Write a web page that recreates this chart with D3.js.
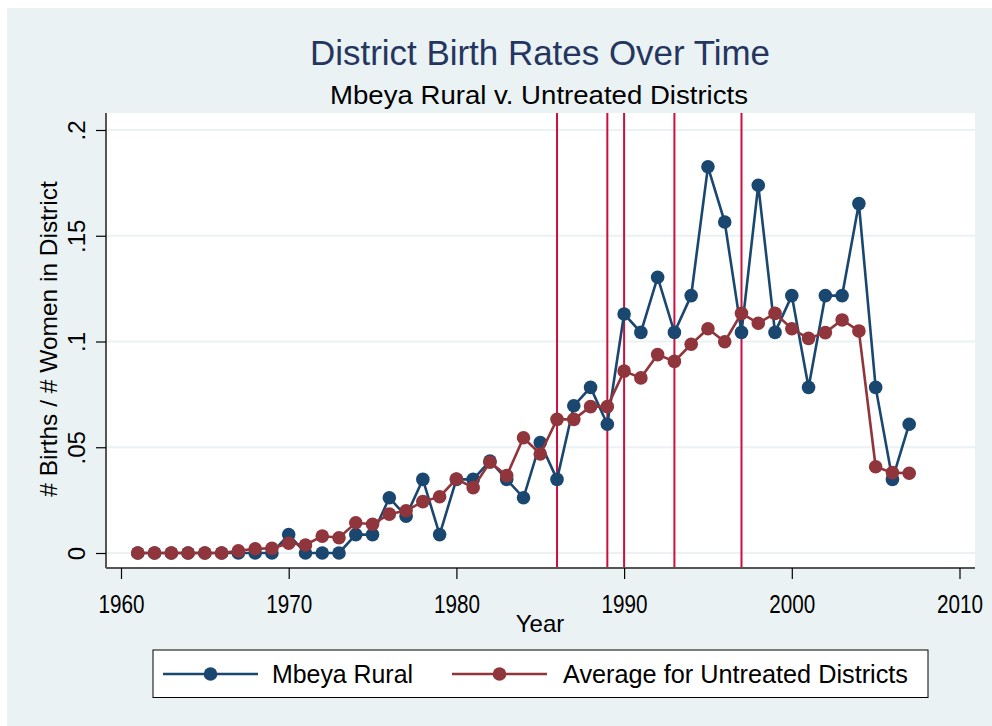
<!DOCTYPE html>
<html>
<head>
<meta charset="utf-8">
<script src="https://cdn.jsdelivr.net/npm/d3@7"></script>
<style>
  html, body { margin: 0; padding: 0; background: #ffffff; }
  svg { display: block; }
  text { font-family: "Liberation Sans", Arial, Helvetica, sans-serif; }
</style>
</head>
<body>
<svg id="chart" width="992" height="726"></svg>
<script>
const years = d3.range(1961, 2008);
const mbeyaRural = [
  0, 0, 0, 0, 0, 0, 0, 0, 0,            // 1961-1969
  0.0087, 0, 0, 0, 0.0087, 0.0087,      // 1970-1975
  0.0261, 0.0174, 0.0348, 0.0087,       // 1976-1979
  0.0348, 0.0348, 0.0435, 0.0348, 0.0261, 0.0522, 0.0348, 0.0696, 0.0783, 0.0609, // 1980-1989
  0.1130, 0.1043, 0.1304, 0.1043, 0.1217, 0.1826, 0.1565, 0.1043, 0.1739, 0.1043, // 1990-1999
  0.1217, 0.0783, 0.1217, 0.1217, 0.1652, 0.0783, 0.0348, 0.0609                 // 2000-2007
];
const untreatedAvg = [
  0, 0, 0, 0, 0, 0, 0.001, 0.002, 0.0022, // 1961-1969
  0.0046, 0.0038, 0.008, 0.0072, 0.0143, 0.0136, 0.0184, 0.020, 0.0243, 0.0266, // 1970-1979
  0.035, 0.0309, 0.0429, 0.0366, 0.0545, 0.0468, 0.0632, 0.0632, 0.0692, 0.0692, // 1980-1989
  0.086, 0.0828, 0.0938, 0.0906, 0.0987, 0.106, 0.0999, 0.1133, 0.1086, 0.1133,  // 1990-1999
  0.106, 0.1015, 0.1042, 0.1102, 0.105, 0.0408, 0.038, 0.0377                    // 2000-2007
];
const policyYears = [1986, 1989, 1990, 1993, 1997];
const xTicks = [1960, 1970, 1980, 1990, 2000, 2010];
const yTicks = [0, 0.05, 0.1, 0.15, 0.2];
const yTickLabels = ["0", ".05", ".1", ".15", ".2"];
const seriesNames = ["Mbeya Rural", "Average for Untreated Districts"];
const seriesColors = ["#1a476f", "#90353b"];

const svg = d3.select("#chart");
const plot = { left: 106, right: 975, top: 113, bottom: 568 };

const x = d3.scaleLinear().domain([1960, 2010]).range([121, 959.5]);
const y = d3.scaleLinear().domain([0, 0.2]).range([553, 130]);

// outer background
svg.append("rect").attr("x", 7).attr("y", 8).attr("width", 985).attr("height", 718).attr("fill", "#eaf2f3");
// plot region
svg.append("rect").attr("x", plot.left).attr("y", plot.top)
  .attr("width", plot.right - plot.left).attr("height", plot.bottom - plot.top).attr("fill", "#ffffff");

// gridlines
svg.append("g").selectAll("line").data(yTicks).join("line")
  .attr("x1", plot.left).attr("x2", plot.right)
  .attr("y1", d => y(d)).attr("y2", d => y(d))
  .attr("stroke", "#eaf2f3").attr("stroke-width", 2);

// policy lines
svg.append("g").selectAll("line").data(policyYears).join("line")
  .attr("x1", d => x(d)).attr("x2", d => x(d))
  .attr("y1", plot.top).attr("y2", plot.bottom)
  .attr("stroke", "#cc0f3c").attr("stroke-width", 2);

// titles
svg.append("text").attr("x", 540).attr("y", 65).attr("text-anchor", "middle")
  .attr("font-size", 35).attr("fill", "#243660").attr("textLength", 460).attr("lengthAdjust", "spacingAndGlyphs")
  .text("District Birth Rates Over Time");
svg.append("text").attr("x", 539).attr("y", 104).attr("text-anchor", "middle")
  .attr("font-size", 26).attr("fill", "#000").attr("textLength", 418).attr("lengthAdjust", "spacingAndGlyphs")
  .text("Mbeya Rural v. Untreated Districts");

// series
const allSeries = [mbeyaRural, untreatedAvg];
allSeries.forEach((vals, i) => {
  const data = years.map((yr, j) => ({ yr, v: vals[j] }));
  const g = svg.append("g");
  g.append("path").datum(data)
    .attr("fill", "none").attr("stroke", seriesColors[i]).attr("stroke-width", 2.6)
    .attr("d", d3.line().x(d => x(d.yr)).y(d => y(d.v)));
  g.selectAll("circle").data(data).join("circle")
    .attr("cx", d => x(d.yr)).attr("cy", d => y(d.v)).attr("r", 6.8)
    .attr("fill", seriesColors[i]);
});

// axes
const yAxis = svg.append("g").attr("transform", `translate(${plot.left},0)`)
  .call(d3.axisLeft(y).tickValues(yTicks).tickSize(10).tickFormat((d, i) => yTickLabels[i]));
yAxis.select(".domain").attr("d", `M0,${plot.top}V${plot.bottom}`).attr("stroke", "#555").attr("stroke-width", 2);
yAxis.selectAll(".tick line").attr("stroke", "#000").attr("stroke-width", 1.2);
yAxis.selectAll(".tick text")
  .attr("font-size", 24).attr("fill", "#000")
  .attr("x", null).attr("dy", null)
  .attr("text-anchor", "middle")
  .attr("transform", "translate(-21,0) rotate(-90)");

const xAxis = svg.append("g").attr("transform", `translate(0,${plot.bottom})`)
  .call(d3.axisBottom(x).tickValues(xTicks).tickSize(11).tickFormat(d3.format("d")));
xAxis.select(".domain").attr("d", `M${plot.left},0H${plot.right}`).attr("stroke", "#555").attr("stroke-width", 2);
xAxis.selectAll(".tick line").attr("stroke", "#000").attr("stroke-width", 1.2);
xAxis.selectAll(".tick text").attr("font-size", 25).attr("fill", "#000").attr("y", 45).attr("dy", null)
  .attr("textLength", 46).attr("lengthAdjust", "spacingAndGlyphs");

// axis titles
svg.append("text").attr("x", 540).attr("y", 632).attr("text-anchor", "middle")
  .attr("font-size", 24).attr("fill", "#000").text("Year");
svg.append("text").attr("transform", "translate(57,339) rotate(-90)").attr("text-anchor", "middle")
  .attr("font-size", 24.5).attr("fill", "#000").text("# Births / # Women in District");

// legend
const legend = svg.append("g");
legend.append("rect").attr("x", 153).attr("y", 650).attr("width", 775).attr("height", 47.5)
  .attr("fill", "#fff").attr("stroke", "#000").attr("stroke-width", 1);
const legendItems = [
  { x1: 163, x2: 258, tx: 272, w: 141 },
  { x1: 452, x2: 547, tx: 563, w: 345 }
];
seriesNames.forEach((name, i) => {
  const it = legendItems[i];
  legend.append("line").attr("x1", it.x1).attr("x2", it.x2).attr("y1", 674).attr("y2", 674)
    .attr("stroke", seriesColors[i]).attr("stroke-width", 2.6);
  legend.append("circle").attr("cx", (it.x1 + it.x2) / 2).attr("cy", 674).attr("r", 6.8).attr("fill", seriesColors[i]);
  legend.append("text").attr("x", it.tx).attr("y", 683).attr("font-size", 25).attr("fill", "#000")
    .attr("textLength", it.w).attr("lengthAdjust", "spacingAndGlyphs").text(name);
});
</script>
</body>
</html>
